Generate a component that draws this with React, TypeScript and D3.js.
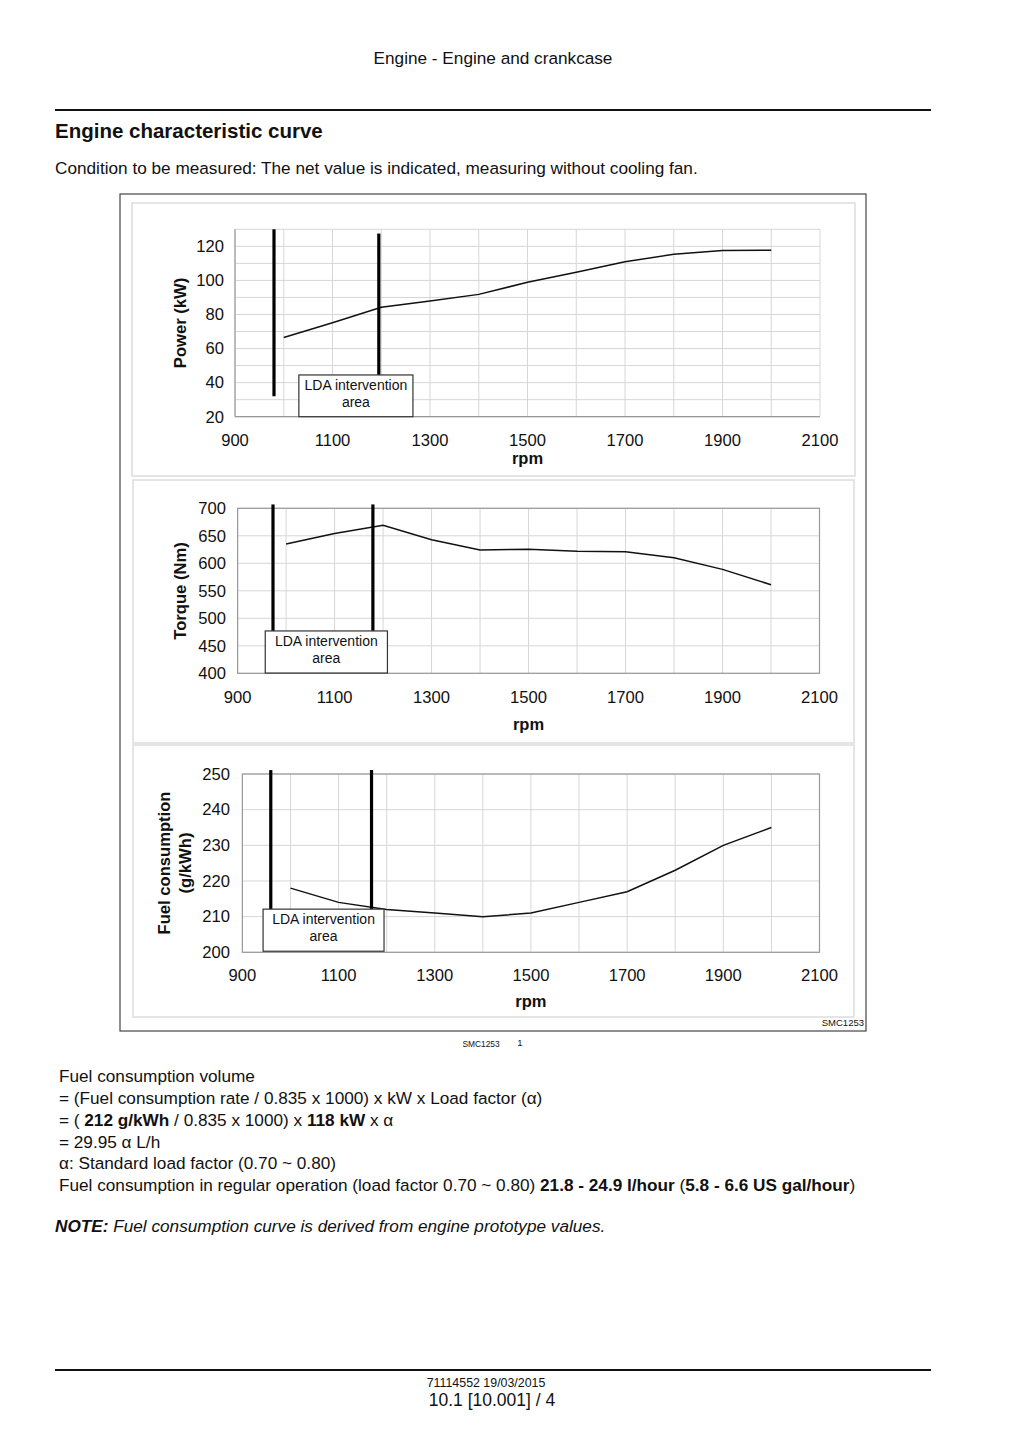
import React from "react";
import * as d3 from "d3";

const rpm = [1000, 1100, 1200, 1300, 1400, 1500, 1600, 1700, 1800, 1900, 2000];
const power = [66.5, 75.2, 84.2, 87.9, 91.8, 98.9, 104.8, 111, 115.3, 117.5, 117.7];
const torque = [635, 654, 669, 643, 624, 625.5, 622, 621, 610, 589, 561];
const fuel = [218, 214, 212, 211, 210, 211, 214, 217, 223, 230, 235];

const xTicks = [900, 1100, 1300, 1500, 1700, 1900, 2100];
const powerTicks = [20, 40, 60, 80, 100, 120];
const torqueTicks = [400, 450, 500, 550, 600, 650, 700];
const fuelTicks = [200, 210, 220, 230, 240, 250];

// LDA markers: [rpm, valueTop, valueBottom]
const powerLDA = [[980, 130, 32], [1195, 127.5, 44.5]];
const torqueLDA = [[973, 707, 477], [1179, 707, 477]];
const fuelLDA = [[959, 251.1, 212.1], [1168.5, 251.1, 212.1]];
// LDA box: [rpmStart, rpmEnd, valueTop, valueBottom]
const powerBox = [1031, 1265, 44.5, 20];
const torqueBox = [957, 1209, 477, 400.5];
const fuelBox = [943, 1194.5, 212.1, 200.3];

const FONT = "'Liberation Sans', Arial, sans-serif";
const TICK = 16.6;

type PanelProps = {
  x0: number; x1: number; yTop: number; yBot: number;
  yDomain: [number, number];
  yTicks: number[];
  yGridStep: number;
  values: number[];
  lda: number[][];
  box: number[];
  border: boolean;
  labelLines: string[];
  labelX: number;
  labelY: number;
  xLabelY: number;
  rpmY: number;
  yLabelRight: number;
};

function Panel(p: PanelProps) {
  const x = d3.scaleLinear().domain([900, 2100]).range([p.x0, p.x1]);
  const y = d3.scaleLinear().domain(p.yDomain).range([p.yBot, p.yTop]);
  const vGrid = d3.range(900, 2101, 100);
  const hGrid = d3.range(p.yDomain[0], p.yDomain[1] + 0.001, p.yGridStep);
  const line = d3.line<number>().x((_, i) => x(rpm[i])).y((d) => y(d));
  return (
    <g>
      {vGrid.map((v) => (
        <line key={"v" + v} x1={x(v)} x2={x(v)} y1={p.yTop} y2={p.yBot} stroke="#d6d6d6" strokeWidth={1} />
      ))}
      {hGrid.map((v) => (
        <line key={"h" + v} x1={p.x0} x2={p.x1} y1={y(v)} y2={y(v)} stroke="#d6d6d6" strokeWidth={1} />
      ))}
      {p.border ? (
        <rect x={p.x0} y={p.yTop} width={p.x1 - p.x0} height={p.yBot - p.yTop} fill="none" stroke="#999" strokeWidth={1.2} />
      ) : (
        <g>
          <line x1={p.x0} x2={p.x0} y1={p.yTop} y2={p.yBot} stroke="#999" strokeWidth={1.2} />
          <line x1={p.x0} x2={p.x1} y1={p.yBot} y2={p.yBot} stroke="#999" strokeWidth={1.2} />
        </g>
      )}
      {p.yTicks.map((t) => (
        <text key={"yt" + t} x={p.yLabelRight} y={y(t)} dy="0.35em" textAnchor="end" fontSize={TICK} fontFamily={FONT} fill="#111">
          {t}
        </text>
      ))}
      {xTicks.map((t) => (
        <text key={"xt" + t} x={x(t)} y={p.xLabelY} dy="0.35em" textAnchor="middle" fontSize={TICK} fontFamily={FONT} fill="#111">
          {t}
        </text>
      ))}
      <text x={(p.x0 + p.x1) / 2} y={p.rpmY} dy="0.35em" textAnchor="middle" fontSize={16.5} fontWeight="bold" fontFamily={FONT} fill="#111">
        rpm
      </text>
      <g transform={`translate(${p.labelX},${p.labelY}) rotate(-90)`}>
        {p.labelLines.map((l, i) => (
          <text key={l} x={0} y={(i - (p.labelLines.length - 1) / 2) * 21} dy="0.35em" textAnchor="middle" fontSize={16.6} fontWeight="bold" fontFamily={FONT} fill="#111">
            {l}
          </text>
        ))}
      </g>
      <path d={line(p.values) || ""} fill="none" stroke="#111" strokeWidth={1.5} />
      {p.lda.map((l, i) => (
        <line key={"lda" + i} x1={x(l[0])} x2={x(l[0])} y1={y(l[1])} y2={y(l[2])} stroke="#000" strokeWidth={3.2} />
      ))}
      <rect x={x(p.box[0])} y={y(p.box[2])} width={x(p.box[1]) - x(p.box[0])} height={y(p.box[3]) - y(p.box[2])} fill="#fff" stroke="#333" strokeWidth={1.2} />
      <text x={(x(p.box[0]) + x(p.box[1])) / 2} y={y(p.box[2]) + 10} dy="0.35em" textAnchor="middle" fontSize={14} fontFamily={FONT} fill="#111">
        LDA intervention
      </text>
      <text x={(x(p.box[0]) + x(p.box[1])) / 2} y={y(p.box[2]) + 27} dy="0.35em" textAnchor="middle" fontSize={14} fontFamily={FONT} fill="#111">
        area
      </text>
    </g>
  );
}

export default function App() {
  const t = { fontFamily: FONT, fill: "#111" };
  return (
    <svg width={1024} height={1448} style={{ position: "absolute", left: 0, top: 0, background: "#fff" }}>
      <rect x={0} y={0} width={1024} height={1448} fill="#fff" />
      <text x={493} y={58} dy="0.35em" textAnchor="middle" fontSize={17.2} {...t}>Engine - Engine and crankcase</text>
      <line x1={55} x2={931} y1={110} y2={110} stroke="#111" strokeWidth={2} />
      <text x={55} y={131} dy="0.35em" fontSize={20.5} fontWeight="bold" {...t}>Engine characteristic curve</text>
      <text x={55} y={168} dy="0.35em" fontSize={17.2} {...t}>Condition to be measured: The net value is indicated, measuring without cooling fan.</text>

      <rect x={120} y={194} width={746} height={837} fill="#fff" stroke="#444" strokeWidth={1.2} />
      <rect x={132} y={203} width={723} height={273} fill="none" stroke="#ddd" strokeWidth={1.5} />
      <rect x={133} y={480} width={721} height={263} fill="none" stroke="#ddd" strokeWidth={1.5} />
      <rect x={133} y={745} width={721} height={272} fill="none" stroke="#ddd" strokeWidth={1.5} />

      <Panel x0={235} x1={820} yTop={229.3} yBot={416.7} yDomain={[20, 130]} yTicks={powerTicks} yGridStep={10}
        values={power} lda={powerLDA} box={powerBox} border={false} labelLines={["Power (kW)"]}
        labelX={180} labelY={323} xLabelY={440} rpmY={458} yLabelRight={224} />
      <Panel x0={237.6} x1={819.5} yTop={508.3} yBot={673.3} yDomain={[400, 700]} yTicks={torqueTicks} yGridStep={50}
        values={torque} lda={torqueLDA} box={torqueBox} border={true} labelLines={["Torque (Nm)"]}
        labelX={180} labelY={591} xLabelY={697} rpmY={724} yLabelRight={226} />
      <Panel x0={242.4} x1={819.5} yTop={774} yBot={952.3} yDomain={[200, 250]} yTicks={fuelTicks} yGridStep={10}
        values={fuel} lda={fuelLDA} box={fuelBox} border={true} labelLines={["Fuel consumption", "(g/kWh)"]}
        labelX={175} labelY={863} xLabelY={975} rpmY={1001} yLabelRight={230} />

      <text x={864} y={1023} dy="0.35em" textAnchor="end" fontSize={9.5} {...t}>SMC1253</text>
      <text x={481} y={1044} dy="0.35em" textAnchor="middle" fontSize={8.4} {...t}>SMC1253</text>
      <text x={520} y={1043} dy="0.35em" textAnchor="middle" fontSize={9.5} {...t}>1</text>

      <g fontSize={17.2} {...t}>
        <text x={59} y={1076} dy="0.35em">Fuel consumption volume</text>
        <text x={59} y={1098} dy="0.35em">= (Fuel consumption rate / 0.835 x 1000) x kW x Load factor (α)</text>
        <text x={59} y={1120} dy="0.35em">= ( <tspan fontWeight="bold">212 g/kWh</tspan> / 0.835 x 1000) x <tspan fontWeight="bold">118 kW</tspan> x α</text>
        <text x={59} y={1142} dy="0.35em">= 29.95 α L/h</text>
        <text x={59} y={1163} dy="0.35em">α:  Standard load factor (0.70 ~ 0.80)</text>
        <text x={59} y={1185} dy="0.35em">Fuel consumption in regular operation (load factor 0.70 ~ 0.80) <tspan fontWeight="bold">21.8 - 24.9 l/hour</tspan> (<tspan fontWeight="bold">5.8 - 6.6 US gal/hour</tspan>)</text>
        <text x={55} y={1226} dy="0.35em" fontStyle="italic"><tspan fontWeight="bold">NOTE:</tspan> Fuel consumption curve is derived from engine prototype values.</text>
      </g>

      <line x1={55} x2={931} y1={1370} y2={1370} stroke="#111" strokeWidth={2} />
      <text x={486} y={1383} dy="0.35em" textAnchor="middle" fontSize={12.4} {...t}>71114552 19/03/2015</text>
      <text x={492} y={1400} dy="0.35em" textAnchor="middle" fontSize={17.5} {...t}>10.1 [10.001] / 4</text>
    </svg>
  );
}
